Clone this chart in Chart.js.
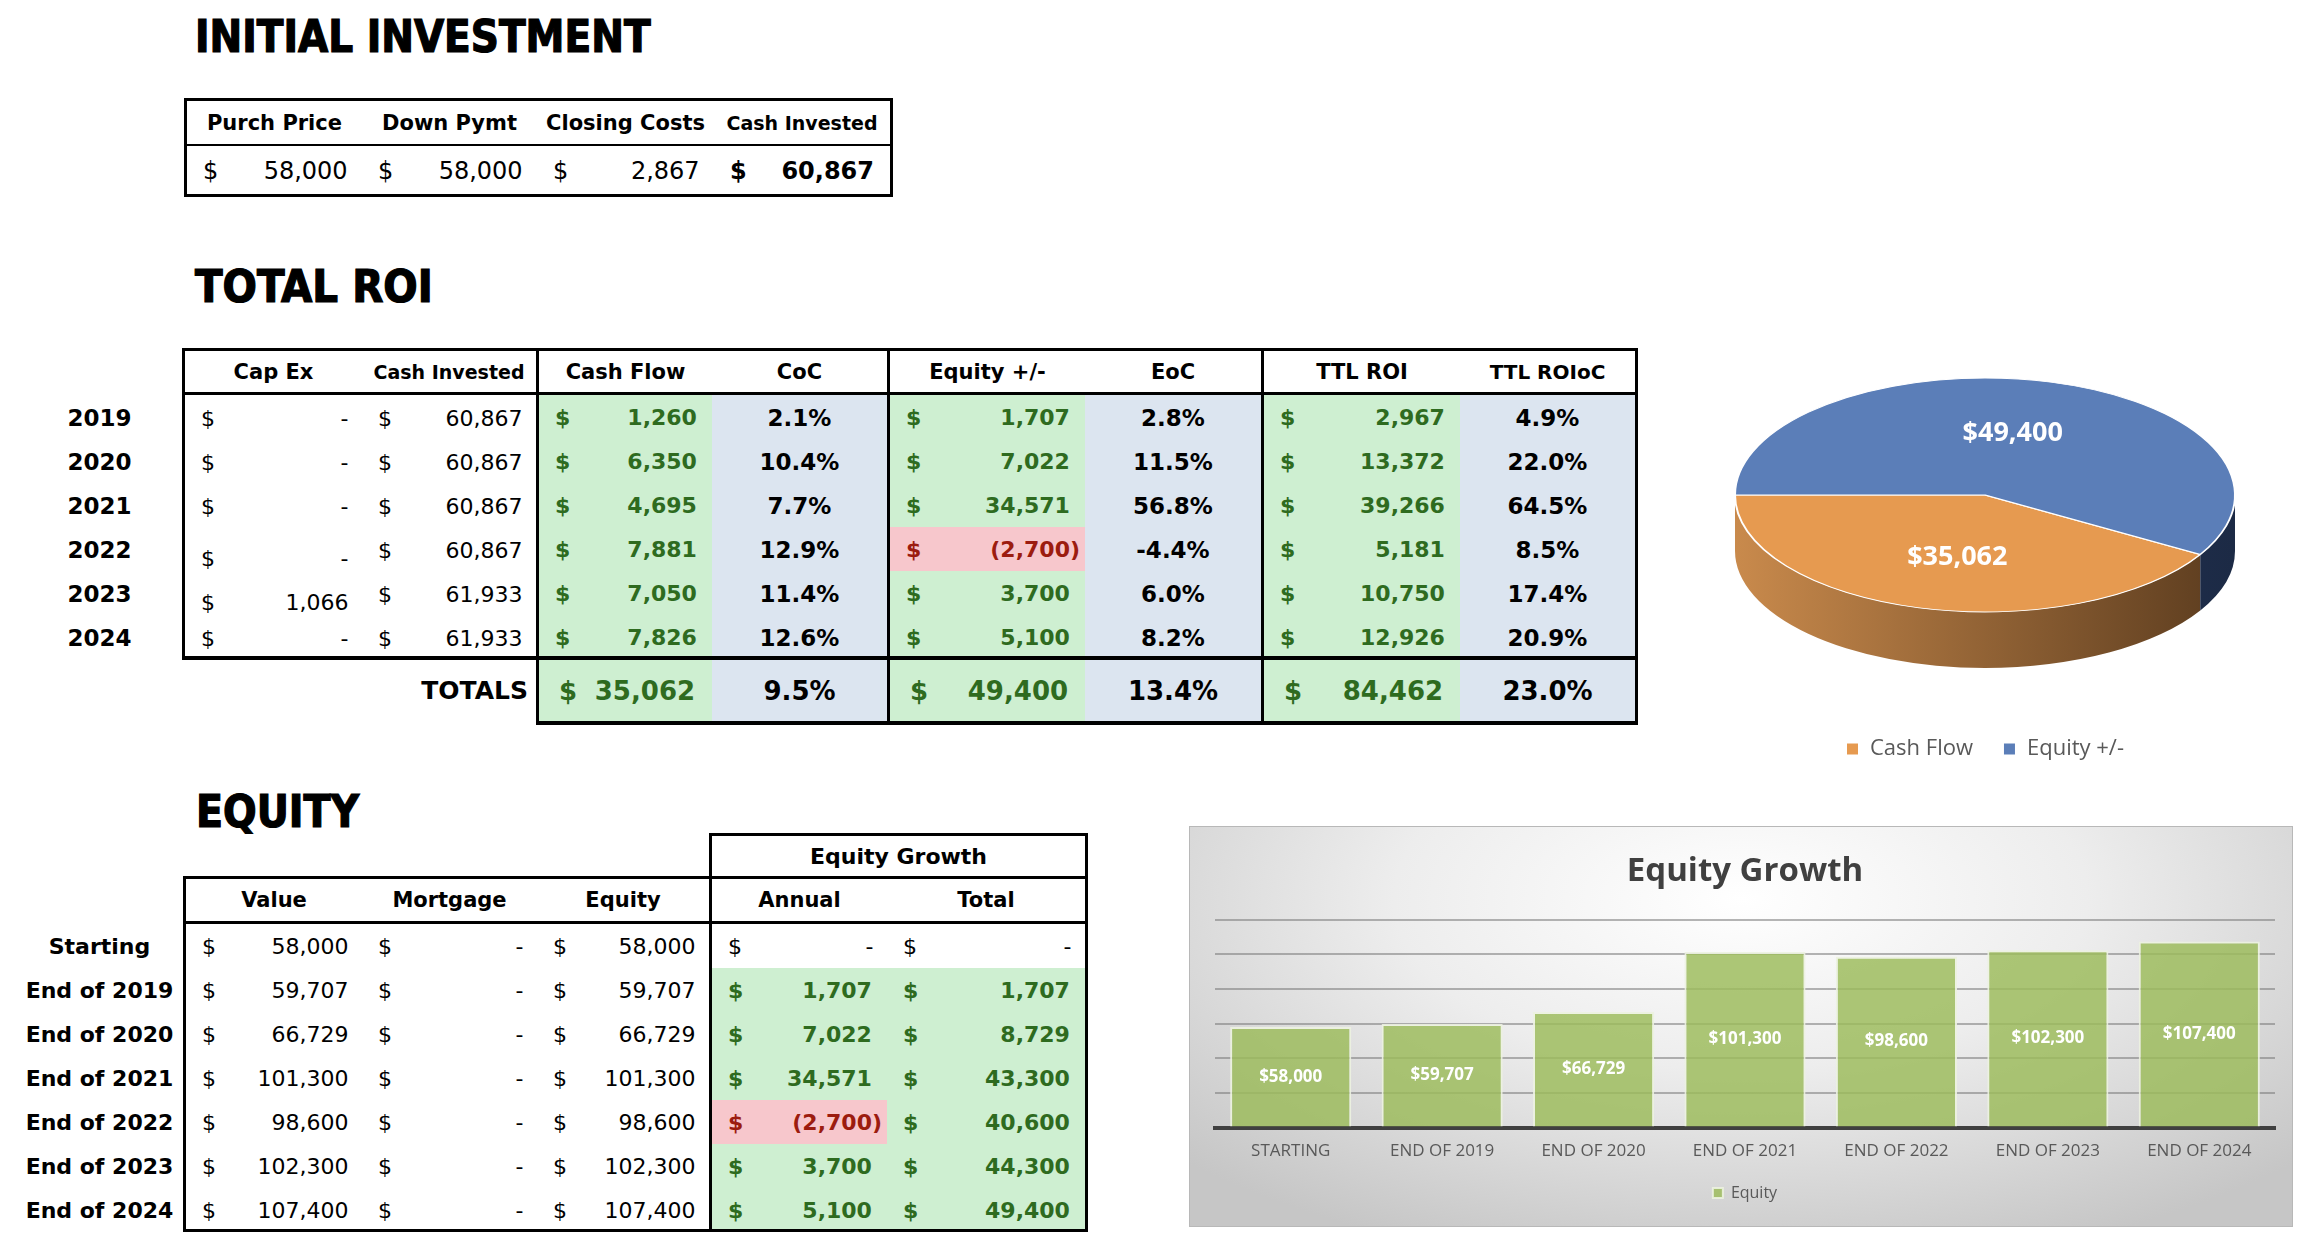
<!DOCTYPE html>
<html>
<head>
<meta charset="utf-8">
<script src="https://cdn.jsdelivr.net/npm/chart.js@4.4.1/dist/chart.umd.min.js"></script>
<style>
    html, body { margin: 0; padding: 0; background: #fff; }
    #page { position: relative; width: 2302px; height: 1238px; overflow: hidden; font-family: 'DejaVu Sans', Verdana, sans-serif; color: #000; }
    .title { position: absolute; font-family: 'DejaVu Sans Condensed', 'DejaVu Sans', sans-serif; font-weight: bold; font-size: 44px; line-height: 44px; white-space: nowrap; transform-origin: 0 0; -webkit-text-stroke: 1.2px #000; }
    .cell { position: absolute; display: flex; align-items: center; box-sizing: border-box; white-space: nowrap; }
    .c { justify-content: center; }
    .r { justify-content: flex-end; }
    .acct { justify-content: space-between; padding: 0 5px 0 16px; }
    .acct i { font-style: normal; visibility: hidden; }
    .b { font-weight: bold; }
    .good { color: #2E6B1F; background: #CEEFD1; }
    .blue { background: #DCE5F0; }
    .bad { color: #9C1C0F; background: #F7C7CC; }
    .low { padding-top: 17px; }
    .rule { position: absolute; background: #000; }
    #pieBox { position: absolute; left: 1700px; top: 282px; width: 570px; height: 488px; }
    #barBox { position: absolute; left: 1189px; top: 826px; width: 1104px; height: 401px; box-sizing: border-box; border: 1px solid #b8b8b8;
        background: radial-gradient(ellipse 70% 95% at 50% 18%, #ffffff 0%, #ededed 45%, #c6c6c6 100%); }
</style>
</head>
<body>
<div id="page">
    <div id="pieBox"><canvas id="pieChart"></canvas></div>
    <div id="barBox"><canvas id="barChart"></canvas></div>
</div>
<script>
// ---- values ----
const investLabels = ['Purch Price', 'Down Pymt', 'Closing Costs', 'Cash Invested']
const investValues = [58000, 58000, 2867, 60867]

const roiHeaders = ['Cap Ex', 'Cash Invested', 'Cash Flow', 'CoC', 'Equity +/-', 'EoC', 'TTL ROI', 'TTL ROIoC']
const roiYears = ['2019', '2020', '2021', '2022', '2023', '2024']
const capEx = [0, 0, 0, 0, 1066, 0]
const cashInvested = [60867, 60867, 60867, 60867, 61933, 61933]
const cashFlow = [1260, 6350, 4695, 7881, 7050, 7826]
const cocPct = [2.1, 10.4, 7.7, 12.9, 11.4, 12.6]
const equityChange = [1707, 7022, 34571, -2700, 3700, 5100]
const eocPct = [2.8, 11.5, 56.8, -4.4, 6.0, 8.2]
const ttlRoi = [2967, 13372, 39266, 5181, 10750, 12926]
const ttlRoiPct = [4.9, 22.0, 64.5, 8.5, 17.4, 20.9]
const roiTotals = [35062, 9.5, 49400, 13.4, 84462, 23.0]

const equityHeaders = ['Value', 'Mortgage', 'Equity', 'Annual', 'Total']
const equityRows = ['Starting', 'End of 2019', 'End of 2020', 'End of 2021', 'End of 2022', 'End of 2023', 'End of 2024']
const propValue = [58000, 59707, 66729, 101300, 98600, 102300, 107400]
const mortgage = [0, 0, 0, 0, 0, 0, 0]
const equityValues = [58000, 59707, 66729, 101300, 98600, 102300, 107400]
const annualGrowth = [0, 1707, 7022, 34571, -2700, 3700, 5100]
const totalGrowth = [0, 1707, 8729, 43300, 40600, 44300, 49400]

const pieLabels = ['Cash Flow', 'Equity +/-']
const pieValues = [35062, 49400]

const barLabels = ['STARTING', 'END OF 2019', 'END OF 2020', 'END OF 2021', 'END OF 2022', 'END OF 2023', 'END OF 2024']

// ---- sheet helpers ----
const page = document.getElementById('page')

function place(x, y, w, h, cls, html, fs) {
    const d = document.createElement('div')
    d.className = 'cell ' + (cls || '')
    d.style.left = x + 'px'
    d.style.top = y + 'px'
    d.style.width = w + 'px'
    d.style.height = h + 'px'
    if (fs) d.style.fontSize = fs + 'px'
    if (html !== undefined) d.innerHTML = html
    page.appendChild(d)
    return d
}

function rule(x, y, w, h) {
    const d = document.createElement('div')
    d.className = 'rule'
    d.style.cssText = `left:${x}px;top:${y}px;width:${w}px;height:${h}px`
    page.appendChild(d)
}

function title(text, x, y, w) {
    const d = document.createElement('div')
    d.className = 'title'
    d.textContent = text
    d.style.left = x + 'px'
    d.style.top = y + 'px'
    page.appendChild(d)
    d.style.transform = `scaleX(${w / d.scrollWidth})`
}

// accounting style: "$" on the left, number on the right, "-" for zero
function acct(v) {
    const txt = v === 0 ? '-' : Math.abs(v).toLocaleString('en-US')
    if (v < 0) return `<span>$</span><span>(${txt})</span>`
    return `<span>$</span><span>${txt}<i>)</i></span>`
}

function pct(v) {
    return v.toFixed(1) + '%'
}

// ---- INITIAL INVESTMENT ----
title('INITIAL INVESTMENT', 195, 15, 456)

const investCols = [[187, 362], [362, 537], [537, 714], [714, 890]]
investCols.forEach(([l, r], c) => {
    place(l, 101, r - l, 43, 'c b', investLabels[c], c === 3 ? 19 : 21)
    place(l, 147, r - l, 47, 'acct' + (c === 3 ? ' b' : ''), acct(investValues[c]), 24)
})
rule(184, 98, 709, 3)
rule(184, 144, 709, 2)
rule(184, 194, 709, 3)
rule(184, 98, 3, 99)
rule(890, 98, 3, 99)

// ---- TOTAL ROI ----
title('TOTAL ROI', 195, 265, 238)

const roiCols = [[185, 362], [362, 536], [539, 712], [712, 887], [890, 1085], [1085, 1261], [1264, 1460], [1460, 1635]]
const roiData = [capEx, cashInvested, cashFlow, cocPct, equityChange, eocPct, ttlRoi, ttlRoiPct]

roiCols.forEach(([l, r], c) => {
    place(l, 351, r - l, 41, 'c b', roiHeaders[c], c === 1 ? 19 : (c === 7 ? 20 : 21))
    roiData[c].forEach((v, i) => {
        const y = 395 + i * 44
        if (c < 2) {
            const low = (c === 0 && (i === 3 || i === 4)) ? ' low' : ''
            place(l, y + 1, r - l, 44, 'acct' + low, acct(v), 22)
        } else if (c % 2 === 0) {
            place(l, y, r - l, 45, 'acct b ' + (v < 0 ? 'bad' : 'good'), acct(v), 22)
        } else {
            place(l, y, r - l, 45, 'c b blue', pct(v), 23)
        }
    })
})
roiYears.forEach((yr, i) => place(21, 396 + i * 44, 157, 44, 'c b', yr, 23))

place(300, 660, 228, 61, 'r b', 'TOTALS', 25)
roiTotals.forEach((v, k) => {
    const [l, r] = roiCols[k + 2]
    if (k % 2 === 0) {
        const d = place(l, 660, r - l, 61, 'acct b good', acct(v), 26)
        d.style.paddingLeft = '20px'
    } else {
        place(l, 660, r - l, 61, 'c b blue', pct(v), 26)
    }
})

rule(182, 348, 1456, 3)
rule(182, 392, 1456, 3)
rule(182, 656, 1456, 4)
rule(536, 721, 1102, 4)
rule(182, 348, 3, 312)
rule(536, 348, 3, 377)
rule(887, 348, 3, 377)
rule(1261, 348, 3, 377)
rule(1635, 348, 3, 377)

// ---- EQUITY ----
title('EQUITY', 196, 790, 163)

const eqCols = [[186, 362], [362, 537], [537, 709], [712, 887], [887, 1085]]
const eqData = [propValue, mortgage, equityValues, annualGrowth, totalGrowth]

place(712, 836, 373, 41, 'c b', 'Equity Growth', 22)
eqCols.forEach(([l, r], c) => {
    place(l, 879, r - l, 42, 'c b', equityHeaders[c], 21)
    eqData[c].forEach((v, i) => {
        const y = 924 + i * 44
        if (c < 3 || i === 0) {
            place(l, y, r - l, 44, 'acct', acct(v), 22)
        } else {
            place(l, y, r - l, 44, 'acct b ' + (v < 0 ? 'bad' : 'good'), acct(v), 22)
        }
    })
})
equityRows.forEach((lbl, i) => place(21, 924 + i * 44, 157, 44, 'c b', lbl, 22))

rule(709, 833, 379, 3)
rule(183, 876, 905, 3)
rule(183, 921, 905, 3)
rule(183, 1229, 905, 3)
rule(183, 876, 3, 356)
rule(709, 833, 3, 399)
rule(1085, 833, 3, 399)

// ---- charts ----
Chart.defaults.font.family = "'Open Sans', sans-serif"

const TILT = 0.468
const DEPTH = 56
const pieColors = ['#E69A50', '#5B7EB8']
const pieSideLight = ['#C98A4C', '#2B3F66']
const pieSideDark = ['#5A3B1E', '#1C2A45']

// flatten the pie into an ellipse and give it a side wall
const pie3d = {
    id: 'pie3d',
    beforeDatasetsDraw(chart) {
        const ctx = chart.ctx
        const arcs = chart.getDatasetMeta(0).data
        const {x, y, outerRadius: r} = arcs[0].getProps(['x', 'y', 'outerRadius'], true)
        const ry = r * TILT

        arcs.forEach((arc, i) => {
            const {startAngle, endAngle} = arc.getProps(['startAngle', 'endAngle'], true)
            const fronts = [[0, Math.PI], [2 * Math.PI, 3 * Math.PI]]
            fronts.forEach(([a0, a1]) => {
                const s = Math.max(startAngle, a0)
                const e = Math.min(endAngle, a1)
                if (e <= s) return
                const grad = ctx.createLinearGradient(x - r, 0, x + r, 0)
                grad.addColorStop(0, pieSideLight[i])
                grad.addColorStop(1, pieSideDark[i])
                ctx.beginPath()
                ctx.ellipse(x, y, r, ry, 0, s, e)
                ctx.ellipse(x, y + DEPTH, r, ry, 0, e, s, true)
                ctx.closePath()
                ctx.fillStyle = grad
                ctx.fill()
            })
        })

        ctx.save()
        ctx.translate(0, y)
        ctx.scale(1, TILT)
        ctx.translate(0, -y)
    },
    afterDatasetsDraw(chart) {
        const ctx = chart.ctx
        ctx.restore()

        const arcs = chart.getDatasetMeta(0).data
        const values = chart.data.datasets[0].data
        ctx.save()
        ctx.fillStyle = '#fff'
        ctx.font = "bold 27px 'Open Sans'"
        ctx.textAlign = 'center'
        ctx.textBaseline = 'middle'
        arcs.forEach((arc, i) => {
            const {x, y, startAngle, endAngle, outerRadius} = arc.getProps(['x', 'y', 'startAngle', 'endAngle', 'outerRadius'], true)
            const mid = (startAngle + endAngle) / 2
            const px = x + Math.cos(mid) * outerRadius * 0.42
            const py = y + Math.sin(mid) * outerRadius * 0.55 * TILT
            ctx.fillText('$' + values[i].toLocaleString('en-US'), px, py)
        })
        ctx.restore()
    }
}

new Chart(document.getElementById('pieChart'), {
    type: 'pie',
    data: {
        labels: pieLabels,
        datasets: [{
            data: pieValues,
            backgroundColor: pieColors,
            borderColor: '#ffffff',
            borderWidth: 2
        }]
    },
    options: {
        animation: false,
        events: [],
        responsive: true,
        maintainAspectRatio: false,
        radius: 250,
        // cash flow slice ends at 9 o'clock like the sheet
        rotation: 270 - 360 * pieValues[0] / (pieValues[0] + pieValues[1]),
        plugins: {
            legend: {
                position: 'bottom',
                labels: {boxWidth: 13, boxHeight: 13, padding: 30, color: '#595959', font: {size: 22}}
            },
            tooltip: {enabled: false}
        }
    },
    plugins: [pie3d]
})

const barValueLabels = {
    id: 'barValueLabels',
    afterDatasetsDraw(chart) {
        const ctx = chart.ctx
        const values = chart.data.datasets[0].data
        ctx.save()
        ctx.fillStyle = '#fff'
        ctx.font = "bold 17px 'Open Sans'"
        ctx.textAlign = 'center'
        ctx.textBaseline = 'middle'
        chart.getDatasetMeta(0).data.forEach((bar, i) => {
            ctx.fillText('$' + values[i].toLocaleString('en-US'), bar.x, (bar.y + bar.base) / 2)
        })
        ctx.restore()
    }
}

new Chart(document.getElementById('barChart'), {
    type: 'bar',
    data: {
        labels: barLabels,
        datasets: [{
            label: 'Equity',
            data: equityValues,
            backgroundColor: 'rgba(155, 187, 89, 0.82)',
            borderColor: 'rgba(236, 242, 224, 0.9)',
            borderWidth: 2,
            barPercentage: 0.8,
            categoryPercentage: 1
        }]
    },
    options: {
        animation: false,
        events: [],
        responsive: true,
        maintainAspectRatio: false,
        layout: {padding: {left: 25, right: 17, top: 0, bottom: 15}},
        plugins: {
            title: {
                display: true,
                text: 'Equity Growth',
                color: '#404040',
                font: {size: 33, weight: 'bold'},
                padding: {top: 25, bottom: 28}
            },
            legend: {
                position: 'bottom',
                labels: {boxWidth: 10, boxHeight: 10, padding: 11, color: '#595959', font: {size: 16}}
            },
            tooltip: {enabled: false}
        },
        scales: {
            x: {
                grid: {display: false, drawTicks: false},
                border: {color: '#404040', width: 4},
                ticks: {color: '#595959', font: {size: 17}, padding: 13}
            },
            y: {
                min: 0,
                max: 120000,
                ticks: {display: false, stepSize: 20000},
                grid: {color: 'rgba(120, 120, 120, 0.55)', lineWidth: 2, drawTicks: false},
                border: {display: false}
            }
        }
    },
    plugins: [barValueLabels]
})
</script>
</body>
</html>
